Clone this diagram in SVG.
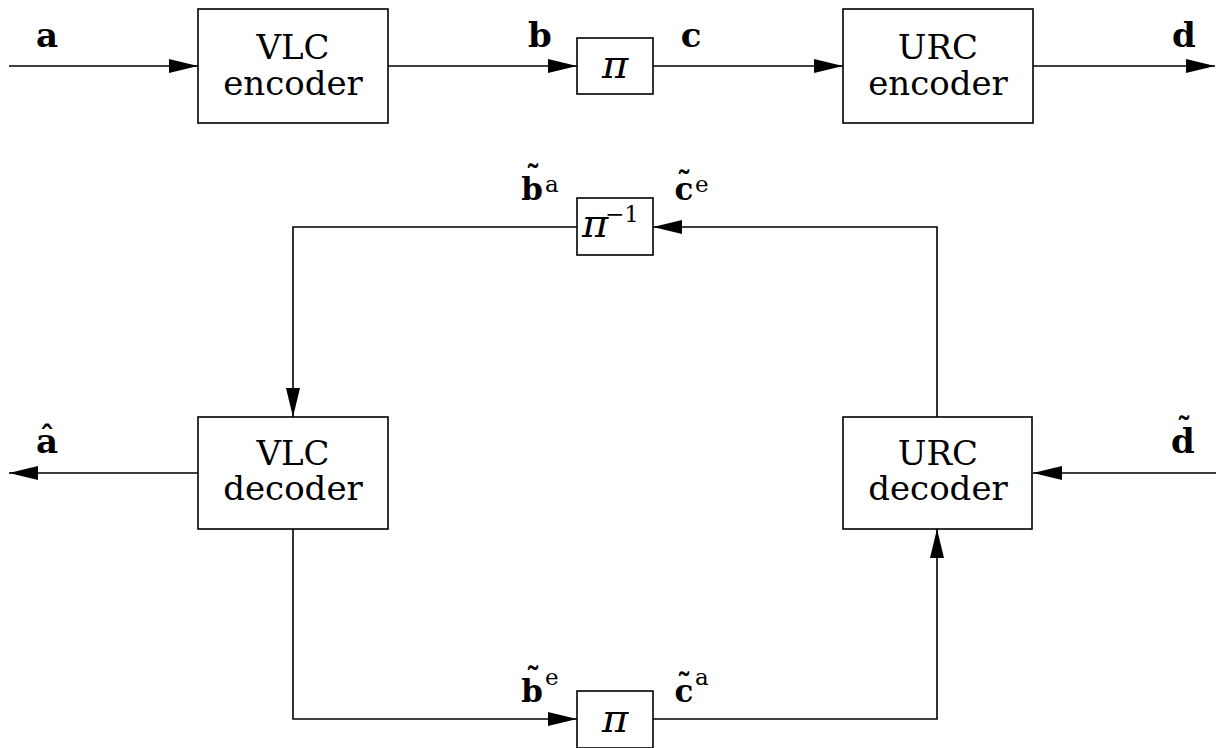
<svg xmlns="http://www.w3.org/2000/svg" width="1216" height="748" viewBox="0 0 1216 748">
<style>
.box{fill:#fff;stroke:#000;stroke-width:1.6}
.ln{fill:none;stroke:#000;stroke-width:1.6}
text{font-family:'DejaVu Serif','Liberation Serif',serif;fill:#000}
.t{font-size:34px;text-anchor:middle}
.pi{font-size:40px;font-style:italic}
.lb{font-size:34px;font-weight:bold;text-anchor:middle}
.ls{font-size:31px;font-weight:bold;text-anchor:middle}
.sup{font-size:23px}
.acc{font-size:30px;font-weight:bold;text-anchor:middle}
</style>
<defs>
<marker id="ah" viewBox="0 0 29 14" refX="29" refY="7" markerWidth="29" markerHeight="14" markerUnits="userSpaceOnUse" orient="auto">
<path d="M0,0 L29,7 L0,14 Z" fill="#000"/>
</marker>
</defs>
<rect width="1216" height="748" fill="#fff"/>
<g id="connectors">
<path class="ln" d="M9,66 H198" marker-end="url(#ah)"/>
<path class="ln" d="M388,66 H577" marker-end="url(#ah)"/>
<path class="ln" d="M653,66 H843" marker-end="url(#ah)"/>
<path class="ln" d="M1033,66 H1215" marker-end="url(#ah)"/>
<path class="ln" d="M937,417 V227 H653" marker-end="url(#ah)"/>
<path class="ln" d="M577,227 H293 V417" marker-end="url(#ah)"/>
<path class="ln" d="M198,473 H9" marker-end="url(#ah)"/>
<path class="ln" d="M1216,473 H1033" marker-end="url(#ah)"/>
<path class="ln" d="M293,529 V719 H577" marker-end="url(#ah)"/>
<path class="ln" d="M653,719 H937 V529" marker-end="url(#ah)"/>
</g>
<g id="vlc-encoder">
<rect class="box" x="198" y="9" width="190" height="114"/>
<text class="t" x="293" y="59">VLC</text>
<text class="t" x="293" y="95">encoder</text>
</g>
<g id="pi-top">
<rect class="box" x="577" y="38" width="76" height="56"/>
<text class="pi" x="602" y="78">π</text>
</g>
<g id="urc-encoder">
<rect class="box" x="843" y="9" width="190" height="114"/>
<text class="t" x="938" y="59">URC</text>
<text class="t" x="938" y="95">encoder</text>
</g>
<g id="pi-inv">
<rect class="box" x="577" y="198" width="76" height="57"/>
<text class="pi" x="582" y="237">π</text>
<text class="sup" x="605" y="222">−1</text>
</g>
<g id="vlc-decoder">
<rect class="box" x="198" y="417" width="190" height="112"/>
<text class="t" x="293" y="465">VLC</text>
<text class="t" x="293" y="500">decoder</text>
</g>
<g id="urc-decoder">
<rect class="box" x="843" y="417" width="189" height="112"/>
<text class="t" x="938" y="465">URC</text>
<text class="t" x="938" y="500">decoder</text>
</g>
<g id="pi-bottom">
<rect class="box" x="577" y="691" width="76" height="57"/>
<text class="pi" x="602" y="732">π</text>
</g>
<g id="labels">
<text class="lb" x="47" y="47">a</text>
<text class="lb" x="540" y="47">b</text>
<text class="lb" x="691" y="47">c</text>
<text class="lb" x="1184" y="47">d</text>
<text class="ls" x="532" y="200">b</text>
<text class="acc" x="533" y="187">˜</text>
<text class="sup" x="545" y="192">a</text>
<text class="ls" x="684" y="200">c</text>
<text class="acc" x="684" y="193">˜</text>
<text class="sup" x="695" y="192">e</text>
<text class="ls" x="532" y="702">b</text>
<text class="acc" x="533" y="689">˜</text>
<text class="sup" x="545" y="685">e</text>
<text class="ls" x="684" y="702">c</text>
<text class="acc" x="684" y="695">˜</text>
<text class="sup" x="695" y="685">a</text>
<text class="lb" x="47" y="453">a</text>
<text class="acc" x="47" y="447">ˆ</text>
<text class="lb" x="1183" y="453">d</text>
<text class="acc" x="1184" y="439">˜</text>
</g>
</svg>
